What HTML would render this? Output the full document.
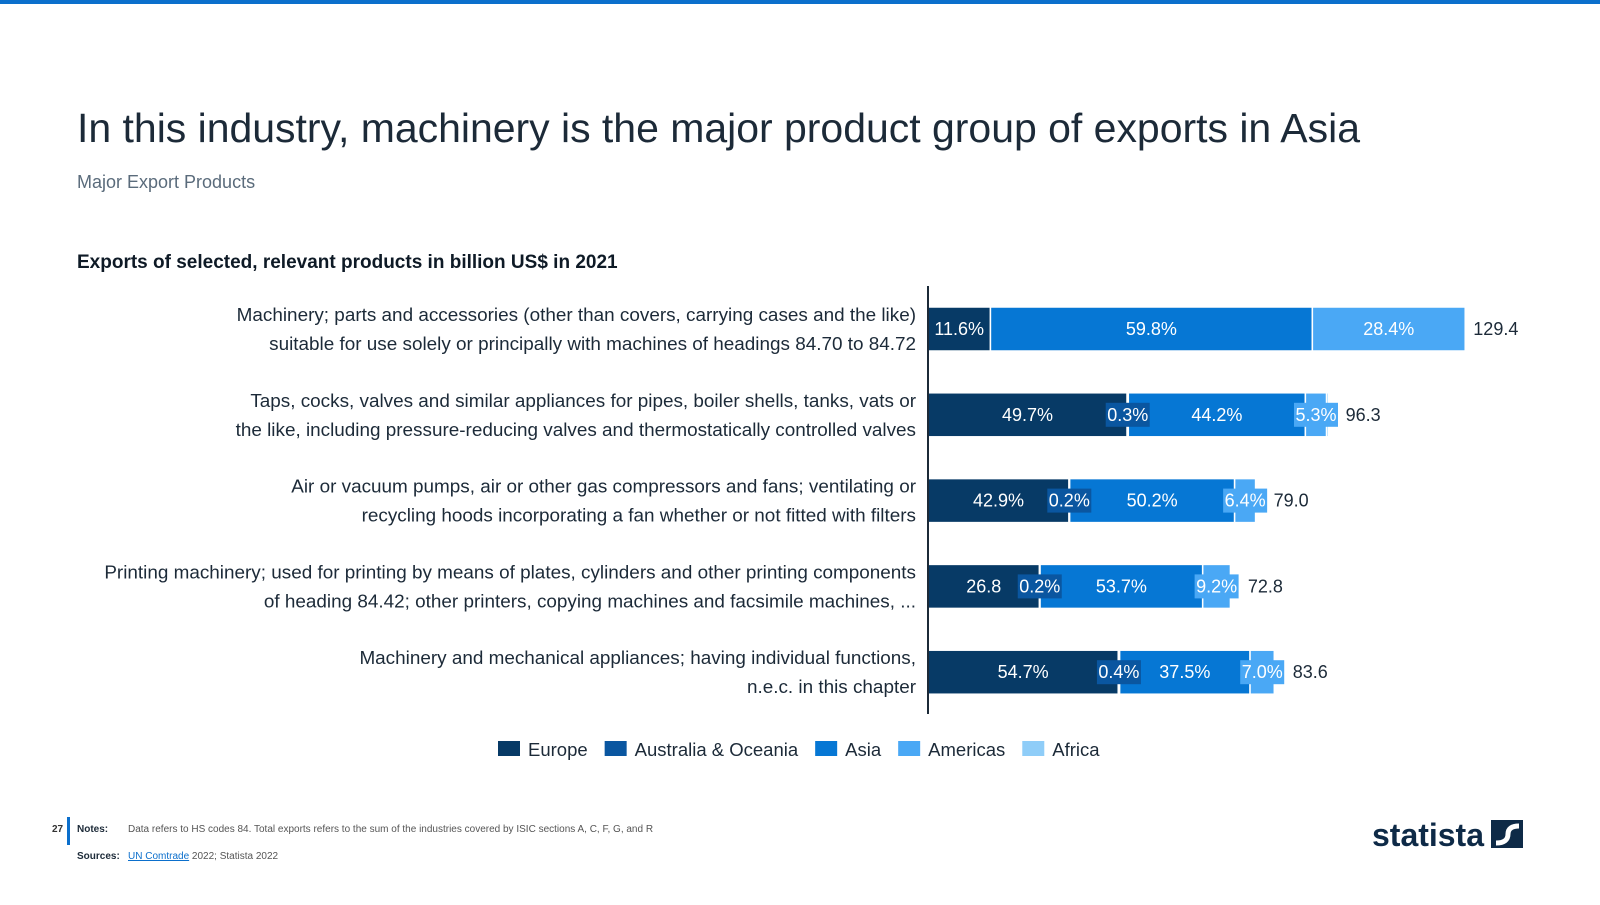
<!DOCTYPE html>
<html><head><meta charset="utf-8"><style>
body{margin:0;width:1600px;height:900px;background:#fff;overflow:hidden;font-family:"Liberation Sans",sans-serif}
</style></head><body>
<svg width="1600" height="900" xmlns="http://www.w3.org/2000/svg" font-family="Liberation Sans, sans-serif">
<rect x="0" y="0" width="1600" height="4" fill="#0b6fcc"/>
<text x="77" y="142" font-size="41" fill="#1c2a38" textLength="1283" lengthAdjust="spacing">In this industry, machinery is the major product group of exports in Asia</text>
<text x="77" y="188" font-size="18" fill="#5a6b7b">Major Export Products</text>
<text x="77" y="268" font-size="19" font-weight="bold" fill="#0e1a26">Exports of selected, relevant products in billion US$ in 2021</text>
<g id="cats"></g>
<g id="bars"></g>
<line x1="928" y1="286" x2="928" y2="714" stroke="#1c2a38" stroke-width="2"/>
<g id="legend"></g>
<text x="52" y="832" font-size="10" font-weight="bold" fill="#333">27</text>
<rect x="67" y="817" width="3" height="28" fill="#0b6fcc"/>
<text x="77" y="832" font-size="10" font-weight="bold" fill="#1c2a38">Notes:</text>
<text x="128" y="832" font-size="10" fill="#555">Data refers to HS codes 84. Total exports refers to the sum of the industries covered by ISIC sections A, C, F, G, and R</text>
<text x="77" y="859" font-size="10" font-weight="bold" fill="#1c2a38">Sources:</text>
<text x="128" y="859" font-size="10" fill="#555"><tspan fill="#0b6fcc" text-decoration="underline">UN Comtrade</tspan> 2022; Statista 2022</text>
<text x="1372" y="846" font-size="32" font-weight="bold" fill="#0e2a47" textLength="112" lengthAdjust="spacingAndGlyphs">statista</text>
<rect x="1491" y="820" width="32" height="28" fill="#0e2a47"/>
<path d="M1496 843 Q1508 843 1508 834 Q1508 826 1519 826" stroke="#fff" stroke-width="5" fill="none"/>
</svg>
<script>
const categories=[
["Machinery; parts and accessories (other than covers, carrying cases and the like)","suitable for use solely or principally with machines of headings 84.70 to 84.72"],
["Taps, cocks, valves and similar appliances for pipes, boiler shells, tanks, vats or","the like, including pressure-reducing valves and thermostatically controlled valves"],
["Air or vacuum pumps, air or other gas compressors and fans; ventilating or","recycling hoods incorporating a fan whether or not fitted with filters"],
["Printing machinery; used for printing by means of plates, cylinders and other printing components","of heading 84.42; other printers, copying machines and facsimile machines, ..."],
["Machinery and mechanical appliances; having individual functions,","n.e.c. in this chapter"]];
const totals=[129.4,96.3,79.0,72.8,83.6];
const europe=[11.6,49.7,42.9,36.8,54.7];
const australia=[0,0.3,0.2,0.2,0.4];
const asia=[59.8,44.2,50.2,53.7,37.5];
const americas=[28.4,5.3,6.4,9.2,7.0];
const africa=[0.2,0.5,0.3,0.1,0.4];
const europeLabels=["11.6%","49.7%","42.9%","26.8","54.7%"];
const seriesNames=["Europe","Australia & Oceania","Asia","Americas","Africa"];
const colors=["#073a66","#0a56a0","#0677d4","#4aa8f5","#8fcdf8"];
const NS="http://www.w3.org/2000/svg";
const x0=928,scale=4.16,rowY0=329,rowStep=85.8,bh=44;
const xs=v=>x0+v*scale, ys=i=>rowY0+i*rowStep;
function mk(t,a,p){const e=document.createElementNS(NS,t);for(const k in a)e.setAttribute(k,a[k]);p.appendChild(e);return e;}
const cats=document.getElementById('cats'),bars=document.getElementById('bars'),leg=document.getElementById('legend');
categories.forEach((c,i)=>{
 c.forEach((ln,j)=>{const t=mk('text',{x:916,y:ys(i)-8+j*29,'font-size':18.9,fill:'#1c2a38','text-anchor':'end'},cats);t.textContent=ln;
 
 });
 const series=[europe,australia,asia,americas,africa];
 let acc=0;const T=totals[i];
 const segs=[];
 series.forEach((s,k)=>{const w=s[i]/100*T;const r=mk('rect',{x:xs(acc),y:ys(i)-bh/2,width:Math.max(0,w*scale),height:bh,fill:colors[k],stroke:'#fff','stroke-width':1.5},bars);
  
  
  segs.push([acc,w,k]);acc+=w;});
 segs.forEach(([a,w,k])=>{
  if(k===4)return;const v=[europe,australia,asia,americas][k][i];if(!v)return;
  const lbl=k===0?europeLabels[i]:v.toFixed(1)+'%';
  const cx=xs(a+w/2);const wpx=w*scale;
  if(wpx<60){const bw=lbl.length*9.5+6;const b=mk('rect',{x:cx-bw/2,y:ys(i)-12,width:bw,height:24,fill:colors[k]},bars);
   
   }
  const t=mk('text',{x:cx,y:ys(i)+6,'font-size':18,fill:'#fff','text-anchor':'middle'},bars);t.textContent=lbl;
  
  
 });
 let endx=xs(acc);if(i>0)endx+=10;
 const t=mk('text',{x:endx+7,y:ys(i)+6,'font-size':18,fill:'#1c2a38'},bars);t.textContent=T.toFixed(1);
 
 
});
let lx=498;
seriesNames.forEach((n,k)=>{const r=mk('rect',{x:lx,y:741,width:22,height:15,fill:colors[k]},leg);
 
 
 const t=mk('text',{x:lx+30,y:756,'font-size':18.5,fill:'#1c2a38'},leg);t.textContent=n;
 
 
 lx+=30+t.getComputedTextLength()+17;});
</script>
</body></html>
